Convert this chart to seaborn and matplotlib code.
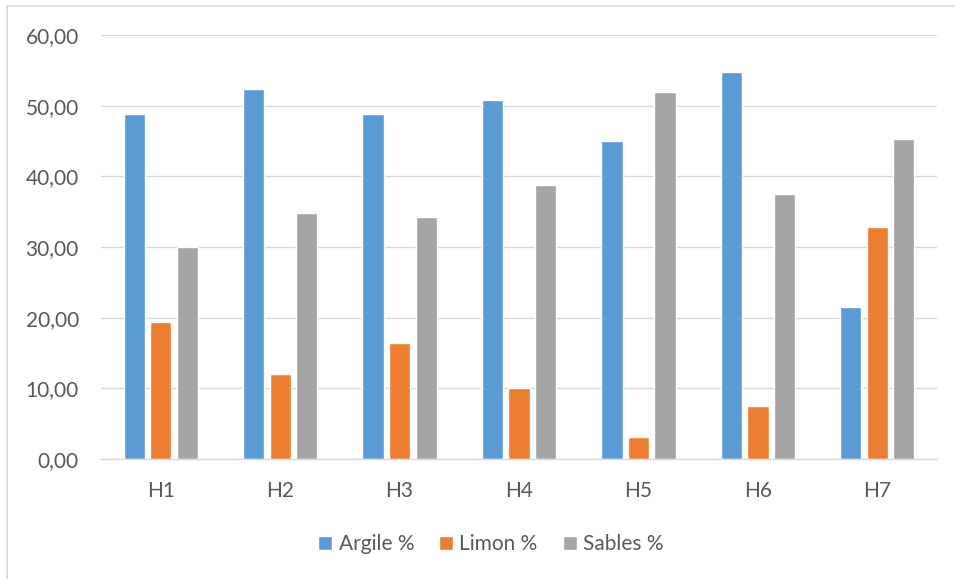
import matplotlib
matplotlib.use("Agg")
import matplotlib.pyplot as plt
from matplotlib.lines import Line2D
import seaborn as sns
import pandas as pd

# Granulometry per horizon (%)
horizons = ["H1", "H2", "H3", "H4", "H5", "H6", "H7"]
argile = [48.75, 52.38, 48.75, 50.78, 44.93, 54.79, 21.57]
limon = [19.40, 12.08, 16.38, 10.05, 3.07, 7.55, 32.80]
sables = [30.06, 34.87, 34.26, 38.84, 51.96, 37.52, 45.26]
series_names = ["Argile %", "Limon %", "Sables %"]
y_ticks = [0, 10, 20, 30, 40, 50, 60]

colors = ["#5B9BD5", "#ED7D31", "#A5A5A5"]
text_color = "#595959"
grid_color = "#D9D9D9"

df = pd.DataFrame({
    "Horizon": horizons * 3,
    "Valeur": argile + limon + sables,
    "Fraction": [s for s in series_names for _ in horizons],
})

sns.set_theme(style="white")
plt.rcParams["font.family"] = ["Lato", "DejaVu Sans"]

fig = plt.figure(figsize=(9.55, 5.79), dpi=100)
ax = fig.add_axes([0.1058, 0.2073, 0.8754, 0.7323])

sns.barplot(data=df, x="Horizon", y="Valeur", hue="Fraction",
            hue_order=series_names, order=horizons, palette=colors,
            width=0.666, gap=0.2, saturation=1, ax=ax, legend=True,
            zorder=3)

ax.set_ylim(0, 60)
ax.set_xlim(-0.5, len(horizons) - 0.5)
ax.set_yticks(y_ticks)
ax.set_yticklabels([f"{v:.2f}".replace(".", ",") for v in y_ticks])
ax.set_xlabel("")
ax.set_ylabel("")

ax.yaxis.grid(True, color=grid_color, linewidth=1.0, zorder=0)
ax.set_axisbelow(True)
for side in ["top", "right", "left"]:
    ax.spines[side].set_visible(False)
ax.spines["bottom"].set_color(grid_color)
ax.spines["bottom"].set_linewidth(1.0)
ax.spines["bottom"].set_zorder(4)

ax.tick_params(axis="y", length=0, pad=16, labelsize=15, labelcolor=text_color)
ax.tick_params(axis="x", length=0, pad=16, labelsize=15, labelcolor=text_color)

handles, labels = ax.get_legend_handles_labels()
ax.get_legend().remove()
fig.legend(handles, labels, loc="center", bbox_to_anchor=(0.514, 0.06),
           ncol=3, frameon=False, fontsize=15, labelcolor=text_color,
           handlelength=0.67, handleheight=0.67, handletextpad=0.3,
           columnspacing=1.2)

# chart frame
fig.add_artist(Line2D([7 / 955, 1.0], [1 - 6 / 579, 1 - 6 / 579],
                      transform=fig.transFigure, color=grid_color, linewidth=1.2))
fig.add_artist(Line2D([7 / 955, 7 / 955], [0.0, 1 - 6 / 579],
                      transform=fig.transFigure, color=grid_color, linewidth=1.2))

fig.savefig("out.png", dpi=100, facecolor="white")
